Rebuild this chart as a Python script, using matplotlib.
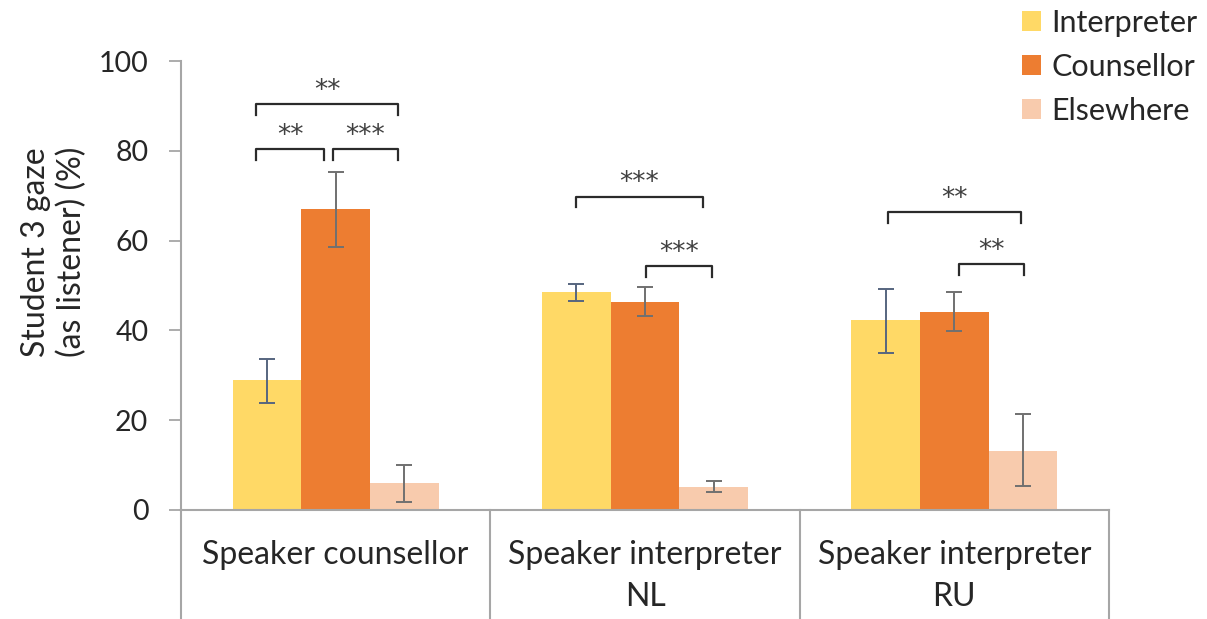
import numpy as np
import matplotlib
matplotlib.use("Agg")
import matplotlib.pyplot as plt
import matplotlib.transforms as mtransforms
from matplotlib.patches import Patch

plt.rcParams['font.family'] = ['Lato', 'DejaVu Sans']

# gaze share per speaker condition
categories = ["Speaker counsellor", "Speaker interpreter\nNL", "Speaker interpreter\nRU"]
series = ["Interpreter", "Counsellor", "Elsewhere"]
interpreter = [29.0, 48.6, 42.3]
counsellor = [67.0, 46.4, 44.2]
elsewhere = [6.1, 5.1, 13.2]
# error bar ends (low, high)
interpreter_err = [(23.9, 33.6), (46.6, 50.3), (35.0, 49.2)]
counsellor_err = [(58.5, 75.3), (43.3, 49.6), (39.9, 48.5)]
elsewhere_err = [(1.8, 10.1), (4.0, 6.5), (5.3, 21.3)]

colors = ["#FFD966", "#ED7D31", "#F8CBAD"]
err_colors = ["#56657F", "#707070", "#707070"]
axis_grey = "#A6A6A6"
text_col = "#262626"

# significance brackets: x0, x1 (category units), height, stars
brackets = [
    (-0.257, 0.201, 90.4, "**"),
    (-0.257, -0.037, 80.3, "**"),
    (-0.009, 0.201, 80.3, "***"),
    (0.778, 1.186, 69.8, "***"),
    (1.002, 1.218, 54.3, "***"),
    (1.787, 2.215, 66.3, "**"),
    (2.016, 2.226, 54.8, "**"),
]

fig = plt.figure(figsize=(12.07, 6.19), dpi=100)
ax = fig.add_axes([181 / 1207, 109 / 619, 928 / 1207, 449 / 619])

x = np.arange(len(categories))
width = 1 / 4.5
values = [interpreter, counsellor, elsewhere]
errs = [interpreter_err, counsellor_err, elsewhere_err]
for i, (vals, err) in enumerate(zip(values, errs)):
    pos = x + (i - 1) * width
    ax.bar(pos, vals, width, color=colors[i], label=series[i], zorder=2)
    lo = [v - e[0] for v, e in zip(vals, err)]
    hi = [e[1] - v for v, e in zip(vals, err)]
    ax.errorbar(pos, vals, yerr=[lo, hi], fmt='none', ecolor=err_colors[i],
                elinewidth=1.4, capsize=5.5, capthick=1.4, zorder=3)

leg_h = 2.4
for x0, x1, h, lab in brackets:
    ax.plot([x0, x0, x1, x1], [h - leg_h, h, h, h - leg_h], color="#2b2b2b",
            lw=1.6, solid_joinstyle='round', zorder=4)
    ax.text((x0 + x1) / 2, h + 1.4, lab, ha='center', va='baseline',
            fontsize=19, color="#404040", family='DejaVu Sans')

ax.set_xlim(-0.5, 2.5)
ax.set_ylim(0, 100)
ax.set_yticks(range(0, 101, 20))
ax.tick_params(axis='y', direction='out', length=8.5, width=1.3, color=axis_grey,
               labelsize=20.5, labelcolor=text_col, pad=15)
ax.set_xticks([])
for s in ['top', 'right']:
    ax.spines[s].set_visible(False)
for s in ['left', 'bottom']:
    ax.spines[s].set_color(axis_grey)
    ax.spines[s].set_linewidth(1.5)

# category dividers running down below the axis
trans = mtransforms.blended_transform_factory(ax.transData, ax.transAxes)
for b in [-0.5, 0.5, 1.5, 2.5]:
    ax.plot([b, b], [0, -0.243], color=axis_grey, lw=1.5, transform=trans,
            clip_on=False)
for i, c in enumerate(categories):
    ax.text(i, -0.066, c, transform=trans, ha='center', va='top', fontsize=23,
            color=text_col, linespacing=1.5)

ax.set_ylabel("Student 3 gaze\n(as listener) (%)", fontsize=23, color=text_col,
              linespacing=1.25)
ax.yaxis.set_label_coords(-0.101, 0.575)

handles = [Patch(facecolor=c, label=l) for c, l in zip(colors, series)]
fig.legend(handles=handles, loc='upper right', bbox_to_anchor=(1.015, 1.03),
           frameon=False, fontsize=22, handlelength=0.6, handleheight=0.6,
           handletextpad=0.35, labelspacing=0.52, labelcolor=text_col)

fig.savefig("out.png", dpi=100)
